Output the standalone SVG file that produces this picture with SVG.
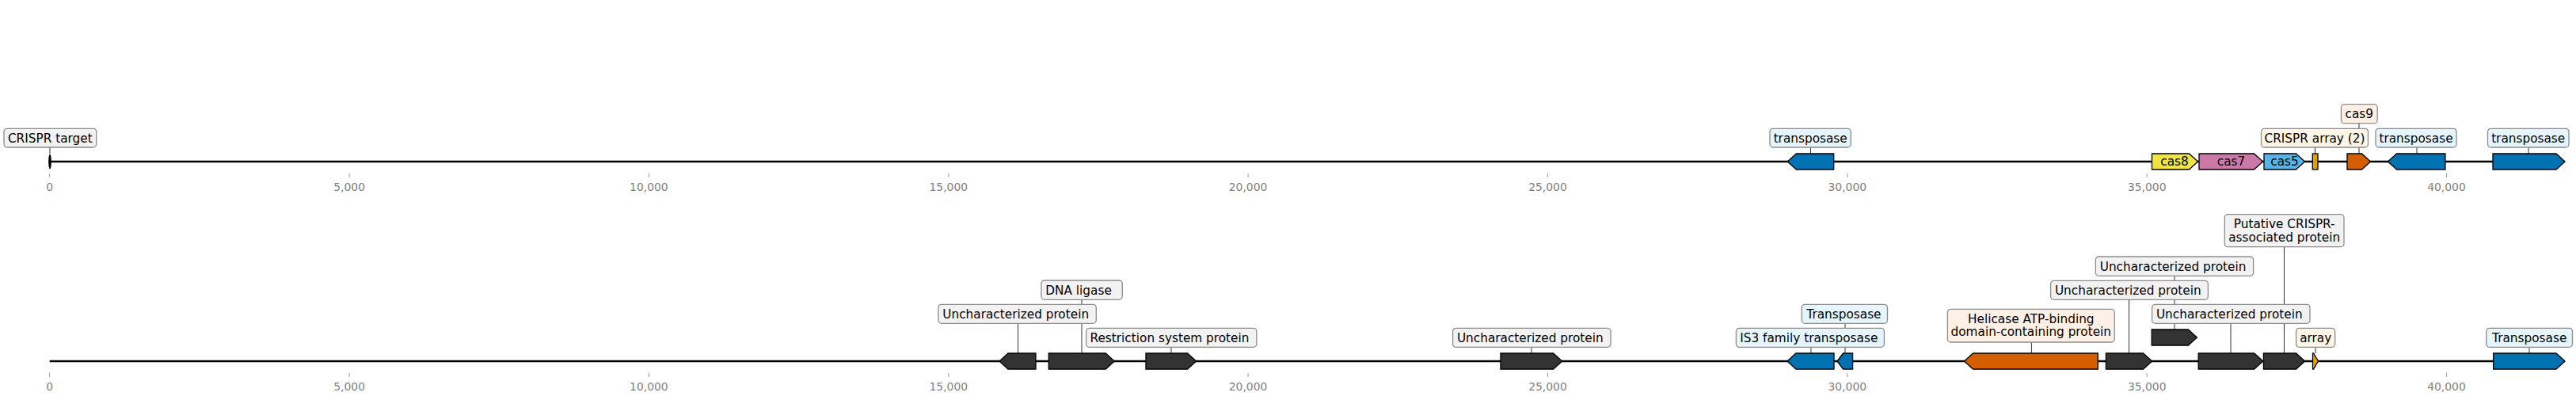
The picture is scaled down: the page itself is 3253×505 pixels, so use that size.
<svg xmlns="http://www.w3.org/2000/svg" width="3253" height="505" viewBox="0 0 3253 505">
<style>
text{font-family:"DejaVu Sans","Liberation Sans",sans-serif;}
.lbl{font-size:15.3px;fill:#000;}
.lblc{font-size:15.3px;fill:#000;text-anchor:middle;}
.tk{font-size:13.9px;fill:#7f7f7f;text-anchor:middle;}
.axis{stroke:#000;stroke-width:2.5;fill:none;}
.tick{stroke:#999;stroke-width:1;}
.lead{stroke:#333;stroke-width:1;fill:none;}
.gene{stroke:#000;stroke-width:1.3;stroke-linejoin:miter;}
.box{stroke:#8c8c8c;stroke-width:1.3;}
.g-grey{fill:#f2f2f2;}
.g-blue{fill:#e6f4fc;}
.g-cream{fill:#fdf6e6;}
.g-peach{fill:#fdf0e6;}
.c-blue{fill:#0072b2;}
.c-dark{fill:#333333;}
.c-yellow{fill:#f0e442;}
.c-pink{fill:#cc79a7;}
.c-sky{fill:#56b4e9;}
.c-orange{fill:#e69f00;}
.c-red{fill:#d55e00;}
</style>

<g id="axes">
<path class="axis" d="M62.7,204 H3239"/>
<path class="axis" d="M62.7,456 H3239"/>
<g id="ticks-top">
<path class="tick" d="M62.7,219V224 M441.1,219V224 M819.4,219V224 M1197.8,219V224 M1576.1,219V224 M1954.5,219V224 M2332.8,219V224 M2711.2,219V224 M3089.5,219V224"/>
<text class="tk" x="62.7" y="241">0</text>
<text class="tk" x="441.1" y="241">5,000</text>
<text class="tk" x="819.4" y="241">10,000</text>
<text class="tk" x="1197.8" y="241">15,000</text>
<text class="tk" x="1576.1" y="241">20,000</text>
<text class="tk" x="1954.5" y="241">25,000</text>
<text class="tk" x="2332.8" y="241">30,000</text>
<text class="tk" x="2711.2" y="241">35,000</text>
<text class="tk" x="3089.5" y="241">40,000</text>
</g>
<g id="ticks-bottom">
<path class="tick" d="M62.7,471V476 M441.1,471V476 M819.4,471V476 M1197.8,471V476 M1576.1,471V476 M1954.5,471V476 M2332.8,471V476 M2711.2,471V476 M3089.5,471V476"/>
<text class="tk" x="62.7" y="493.3">0</text>
<text class="tk" x="441.1" y="493.3">5,000</text>
<text class="tk" x="819.4" y="493.3">10,000</text>
<text class="tk" x="1197.8" y="493.3">15,000</text>
<text class="tk" x="1576.1" y="493.3">20,000</text>
<text class="tk" x="1954.5" y="493.3">25,000</text>
<text class="tk" x="2332.8" y="493.3">30,000</text>
<text class="tk" x="2711.2" y="493.3">35,000</text>
<text class="tk" x="3089.5" y="493.3">40,000</text>
</g>
</g>

<g id="connectors">
<path class="lead" d="M63,186V194"/>
<path class="lead" d="M2286.5,186V194"/>
<path class="lead" d="M2923.5,186V194"/>
<path class="lead" d="M2979,155.7V194"/>
<path class="lead" d="M3052,186V194"/>
<path class="lead" d="M3193,186V194"/>
<path class="lead" d="M1285.6,408.3V446"/>
<path class="lead" d="M1366,378.3V446"/>
<path class="lead" d="M1479,438.3V446"/>
<path class="lead" d="M1934,438.3V446"/>
<path class="lead" d="M2287,438.3V446"/>
<path class="lead" d="M2330,408.3V446"/>
<path class="lead" d="M2565.4,432V446"/>
<path class="lead" d="M2688.5,378.3V446"/>
<path class="lead" d="M2746,348.3V416"/>
<path class="lead" d="M2817,408.3V446"/>
<path class="lead" d="M2884.5,311.7V446"/>
<path class="lead" d="M2924,438.3V446"/>
<path class="lead" d="M3194,438.3V446"/>
</g>

<!-- top track genes -->
<g id="t-crispr-target"><ellipse cx="63" cy="204" rx="1.8" ry="9.5" fill="#000"/></g>
<g id="t-transposase-1"><path class="gene c-blue" d="M2315.7,194 H2268.3 L2257.3,204 L2268.3,214 H2315.7 Z"/></g>
<g id="t-cas8"><path class="gene c-yellow" d="M2717.5,194 H2764.5 L2775.5,204 L2764.5,214 H2717.5 Z"/><text class="lblc" x="2746" y="209.4">cas8</text></g>
<g id="t-cas7"><path class="gene c-pink" d="M2777,194 H2846.5 L2857.5,204 L2846.5,214 H2777 Z"/><text class="lblc" x="2817.5" y="209.4">cas7</text></g>
<g id="t-cas5"><path class="gene c-sky" d="M2859,194 H2899.5 L2910.5,204 L2899.5,214 H2859 Z"/><text class="lblc" x="2885" y="209.4">cas5</text></g>
<g id="t-array"><rect class="gene c-orange" x="2920.3" y="194" width="6.7" height="20"/></g>
<g id="t-cas9"><path class="gene c-red" d="M2964,194 H2982.5 L2993.5,204 L2982.5,214 H2964 Z"/></g>
<g id="t-transposase-2"><path class="gene c-blue" d="M3088,194 H3026.5 L3015.5,204 L3026.5,214 H3088 Z"/></g>
<g id="t-transposase-3"><path class="gene c-blue" d="M3148,194 H3228 L3239,204 L3228,214 H3148 Z"/></g>

<!-- bottom track genes -->
<g id="b-gene-1"><path class="gene c-dark" d="M1308,446 H1273 L1262,456 L1273,466 H1308 Z"/></g>
<g id="b-gene-2"><path class="gene c-dark" d="M1324.3,446 H1396.3 L1407.3,456 L1396.3,466 H1324.3 Z"/></g>
<g id="b-gene-3"><path class="gene c-dark" d="M1447,446 H1499.6 L1510.6,456 L1499.6,466 H1447 Z"/></g>
<g id="b-gene-4"><path class="gene c-dark" d="M1895,446 H1961.6 L1972.6,456 L1961.6,466 H1895 Z"/></g>
<g id="b-is3"><path class="gene c-blue" d="M2316,446 H2268 L2257,456 L2268,466 H2316 Z"/></g>
<g id="b-transposase-small"><path class="gene c-blue" d="M2339.6,446 H2327.5 L2320,456 L2327.5,466 H2339.6 Z"/></g>
<g id="b-helicase"><path class="gene c-red" d="M2649.2,446 H2491.5 L2480.5,456 L2491.5,466 H2649.2 Z"/></g>
<g id="b-gene-5"><path class="gene c-dark" d="M2659.4,446 H2706.6 L2717.6,456 L2706.6,466 H2659.4 Z"/></g>
<g id="b-gene-6"><path class="gene c-dark" d="M2717.2,416 H2763.4 L2774.4,426 L2763.4,436 H2717.2 Z"/></g>
<g id="b-gene-7"><path class="gene c-dark" d="M2776.2,446 H2846.7 L2857.7,456 L2846.7,466 H2776.2 Z"/></g>
<g id="b-gene-8"><path class="gene c-dark" d="M2858.4,446 H2899.6 L2910.6,456 L2899.6,466 H2858.4 Z"/></g>
<g id="b-array"><path class="gene c-orange" d="M2920.5,446 H2921.5 L2927.5,456 L2921.5,466 H2920.5 Z"/></g>
<g id="b-transposase-last"><path class="gene c-blue" d="M3148.7,446 H3228 L3239,456 L3228,466 H3148.7 Z"/></g>

<!-- labels top -->
<g id="lab-crispr-target"><rect class="box g-grey" x="5" y="162.3" width="116.7" height="23.7" rx="4"/><text class="lblc" x="63.3" y="179.6">CRISPR target</text></g>
<g id="lab-t-transposase-1"><rect class="box g-blue" x="2235" y="162.3" width="102.3" height="23.7" rx="4"/><text class="lblc" x="2286.2" y="179.6">transposase</text></g>
<g id="lab-crispr-array"><rect class="box g-cream" x="2855.5" y="162.3" width="135" height="23.7" rx="4"/><text class="lblc" x="2923" y="179.6">CRISPR array (2)</text></g>
<g id="lab-cas9"><rect class="box g-peach" x="2956.5" y="131.7" width="45.7" height="24" rx="4"/><text class="lblc" x="2979.3" y="149.1">cas9</text></g>
<g id="lab-t-transposase-2"><rect class="box g-blue" x="3000" y="162.3" width="102" height="23.7" rx="4"/><text class="lblc" x="3051" y="179.6">transposase</text></g>
<g id="lab-t-transposase-3"><rect class="box g-blue" x="3141.5" y="162.3" width="102.5" height="23.7" rx="4"/><text class="lblc" x="3192.7" y="179.6">transposase</text></g>

<!-- labels bottom -->
<g id="lab-u1"><rect class="box g-grey" x="1185" y="384.3" width="199.3" height="24" rx="4"/><text class="lbl" x="1190.3" y="401.7">Uncharacterized protein</text></g>
<g id="lab-dna-ligase"><rect class="box g-grey" x="1315" y="354" width="102.3" height="24.3" rx="4"/><text class="lbl" x="1320.3" y="371.5">DNA ligase</text></g>
<g id="lab-restriction"><rect class="box g-grey" x="1371.7" y="414.3" width="215.1" height="24" rx="4"/><text class="lbl" x="1376.5" y="431.7">Restriction system protein</text></g>
<g id="lab-u4"><rect class="box g-grey" x="1834.6" y="414.3" width="199.4" height="24" rx="4"/><text class="lbl" x="1839.9" y="431.7">Uncharacterized protein</text></g>
<g id="lab-is3"><rect class="box g-blue" x="2192.4" y="414.3" width="187" height="24" rx="4"/><text class="lbl" x="2197.3" y="431.7">IS3 family transposase</text></g>
<g id="lab-transposase-b"><rect class="box g-blue" x="2275.3" y="384.3" width="108.2" height="24" rx="4"/><text class="lbl" x="2281.3" y="401.7">Transposase</text></g>
<g id="lab-helicase"><rect class="box g-peach" x="2459.4" y="390.3" width="210.8" height="41.7" rx="4"/><text class="lblc" x="2564.8" y="408.1">Helicase ATP-binding</text><text class="lblc" x="2564.8" y="424.4">domain-containing protein</text></g>
<g id="lab-u5"><rect class="box g-grey" x="2589.6" y="354.3" width="198.8" height="24" rx="4"/><text class="lbl" x="2594.9" y="371.7">Uncharacterized protein</text></g>
<g id="lab-u6"><rect class="box g-grey" x="2646.4" y="324" width="199.2" height="24.3" rx="4"/><text class="lbl" x="2651.7" y="341.5">Uncharacterized protein</text></g>
<g id="lab-u7"><rect class="box g-grey" x="2717.6" y="384.3" width="199.4" height="24" rx="4"/><text class="lbl" x="2722.9" y="401.7">Uncharacterized protein</text></g>
<g id="lab-putative"><rect class="box g-grey" x="2809.3" y="270.7" width="150.7" height="41" rx="4"/><text class="lblc" x="2884.7" y="288.1">Putative CRISPR-</text><text class="lblc" x="2884.7" y="304.7">associated protein</text></g>
<g id="lab-array-b"><rect class="box g-cream" x="2899.6" y="414.3" width="49.1" height="24" rx="4"/><text class="lblc" x="2924.2" y="431.7">array</text></g>
<g id="lab-transposase-last"><rect class="box g-blue" x="3139.8" y="414.3" width="108.7" height="24" rx="4"/><text class="lblc" x="3194.2" y="431.7">Transposase</text></g>
</svg>
